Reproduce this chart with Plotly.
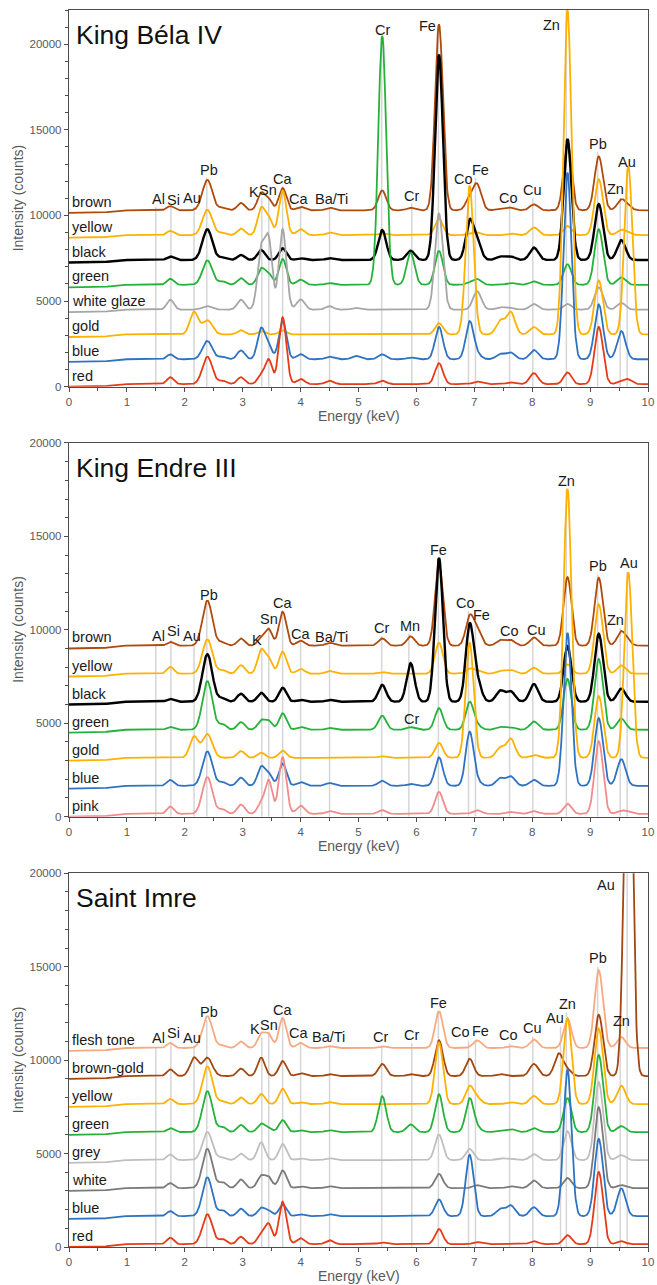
import numpy as np
import plotly.graph_objects as go

# ---------------- data ----------------
# characteristic line positions (keV) used to build each spectrum, and their widths (FWHM, keV)
LINE_NAMES = ["Si", "AuM", "PbM", "e265", "e297", "K", "Sn", "Ca", "CaKb", "Ti", "e495", "Cr", "CrKb/Mn",
              "Fe", "Co", "FeKb", "e745", "CoKb", "Cu", "AuLb", "Zn", "Pb", "ZnKb", "Au"]
LINE_E = [1.75, 2.16, 2.39, 2.65, 2.97, 3.32, 3.45, 3.69, 4.00, 4.50, 4.95, 5.41, 5.90,
          6.39, 6.92, 7.05, 7.45, 7.63, 8.03, 8.46, 8.61, 9.15, 9.54, 9.66]
LINE_FWHM = [0.14, 0.17, 0.20, 0.15, 0.15, 0.15, 0.14, 0.15, 0.16, 0.16, 0.16, 0.16, 0.16,
             0.16, 0.16, 0.17, 0.17, 0.17, 0.17, 0.17, 0.16, 0.17, 0.17, 0.16]
# weak continuum common to all spectra
BG_E = [0.0, 0.55, 0.9, 10.0]
BG_Y = [0, 0, 150, 150]

# ---- Panel 1 : King Béla IV ----
P1_NAMES = ["brown", "yellow", "black", "green", "white glaze", "gold", "blue", "red"]
P1_COLORS = ["#b04a0c", "#ffb100", "#000000", "#25b23a", "#a6a6a6", "#ffb100", "#2e72c2", "#e63b17"]
P1_OFFSETS = [10150, 8700, 7250, 5800, 4350, 2900, 1450, 0]
P1_HEIGHTS = [
    [250, 0, 1780, 150, 430, 1000, 600, 1300, 200, 150, 0, 1160, 150, 10870, 700, 1450, 100, 150, 350, 0, 3960, 3150, 600, 200],
    [250, 0, 1480, 150, 390, 1550, 950, 2600, 350, 150, 0, 100, 0, 970, 100, 150, 0, 100, 450, 0, 540, 3260, 300, 100],
    [200, 0, 1790, 150, 290, 580, 0, 680, 100, 100, 0, 1750, 540, 12000, 2200, 900, 200, 200, 720, 0, 7060, 3260, 1160, 0],
    [350, 0, 1420, 200, 390, 930, 600, 1510, 300, 100, 0, 14550, 1880, 1980, 100, 330, 0, 100, 200, 0, 1200, 3240, 430, 0],
    [580, 0, 200, 0, 580, 3500, 3900, 4700, 600, 200, 100, 0, 0, 5630, 0, 1070, 150, 100, 330, 0, 330, 1300, 390, 0],
    [0, 1300, 830, 0, 250, 200, 0, 250, 0, 0, 0, 0, 0, 660, 8690, 0, 810, 1300, 430, 0, 18970, 3150, 0, 9850],
    [290, 0, 1070, 150, 520, 1790, 700, 2270, 300, 150, 200, 290, 100, 1890, 2180, 250, 300, 390, 540, 0, 10910, 3200, 1650, 0],
    [400, 0, 1600, 200, 400, 500, 1400, 3900, 300, 200, 0, 200, 0, 1220, 0, 150, 0, 100, 640, 0, 680, 3340, 150, 250],
]
P1_LBL_TEXT = ["Al", "Si", "Au", "Pb", "K", "Sn", "Ca", "Ca", "Ba/Ti", "Cr", "Fe", "Zn", "Cr", "Co", "Fe",
               "Co", "Cu", "Pb", "Zn", "Au"]
P1_LBL_X = [1.55, 1.80, 2.13, 2.41, 3.19, 3.44, 3.69, 3.97, 4.53, 5.41, 6.19, 8.34, 5.92, 6.82, 7.11,
            7.59, 8.01, 9.13, 9.43, 9.64]
P1_LBL_Y = [10940, 10880, 11000, 12630, 11390, 11470, 12110, 10940, 10940, 20850, 21050, 21100, 11130,
            12110, 12630, 11000, 11470, 14150, 11520, 13130]
P1_LINE_X = [1.50, 1.76, 2.16, 2.38, 3.33, 3.45, 3.69, 4.00, 4.50, 5.40, 5.92, 6.38, 6.90, 7.02, 7.61,
             8.01, 8.59, 9.13, 9.52, 9.64]
P1_LINE_TOP = [10500, 10500, 10500, 12200, 11000, 11000, 11700, 10500, 10500, 20400, 10700, 21000, 11700,
               12200, 10600, 11000, 22000, 13700, 11000, 12700]

# ---- Panel 2 : King Endre III ----
P2_NAMES = ["brown", "yellow", "black", "green", "gold", "blue", "pink"]
P2_COLORS = ["#b04a0c", "#ffb100", "#000000", "#25b23a", "#ffb100", "#2e72c2", "#f28b8b"]
P2_OFFSETS = [9000, 7500, 6000, 4500, 3000, 1500, 0]
P2_HEIGHTS = [
    [200, 0, 2410, 200, 390, 400, 850, 1820, 270, 150, 0, 390, 500, 4380, 1500, 800, 300, 300, 440, 0, 3670, 3630, 750, 150],
    [360, 0, 1840, 200, 460, 1250, 750, 1180, 260, 150, 0, 100, 0, 1660, 250, 150, 150, 200, 320, 0, 500, 3710, 450, 0],
    [150, 0, 2540, 200, 430, 480, 0, 750, 100, 100, 0, 900, 2060, 7700, 4000, 1000, 590, 550, 950, 0, 2970, 3630, 700, 0],
    [150, 0, 2600, 300, 410, 500, 450, 880, 150, 100, 0, 750, 140, 1160, 1460, 200, 150, 150, 440, 0, 2720, 3790, 600, 0],
    [0, 1120, 1270, 0, 360, 270, 0, 390, 0, 0, 0, 80, 0, 800, 6170, 0, 540, 1020, 150, 0, 14400, 3300, 0, 9930],
    [310, 0, 1840, 200, 440, 1000, 600, 1190, 200, 150, 0, 270, 100, 1520, 2860, 200, 410, 500, 320, 0, 8190, 3620, 1430, 0],
    [390, 0, 1970, 250, 500, 550, 1750, 3040, 440, 150, 0, 200, 0, 1180, 0, 200, 0, 100, 150, 0, 540, 3890, 150, 100],
]
P2_LBL_TEXT = ["Al", "Si", "Au", "Pb", "K", "Sn", "Ca", "Ca", "Ba/Ti", "Cr", "Mn", "Fe", "Co", "Fe", "Co",
               "Cu", "Zn", "Pb", "Zn", "Au", "Cr"]
P2_LBL_X = [1.54, 1.80, 2.13, 2.42, 3.25, 3.45, 3.69, 4.00, 4.54, 5.40, 5.89, 6.38, 6.84, 7.13, 7.61,
            8.07, 8.59, 9.13, 9.44, 9.67, 5.92]
P2_LBL_Y = [9680, 9910, 9680, 11880, 9470, 10590, 11430, 9790, 9640, 10090, 10220, 14290, 11430, 10800,
            9950, 10000, 17950, 13390, 10540, 13570, 5220]
P2_LINE_X = [1.50, 1.76, 2.16, 2.38, 3.33, 3.45, 3.69, 4.00, 4.50, 5.40, 5.87, 6.38, 6.90, 7.02, 7.61,
             8.01, 8.59, 9.13, 9.52, 9.64]
P2_LINE_TOP = [9250, 9450, 9250, 11450, 9050, 10150, 11000, 9350, 9200, 9650, 9800, 13850, 11000, 10350,
               9500, 9550, 17500, 12950, 10100, 13100]

# ---- Panel 3 : Saint Imre ----
P3_NAMES = ["flesh tone", "brown-gold", "yellow", "green", "grey", "white", "blue", "red"]
P3_COLORS = ["#f7a981", "#a3460f", "#ffb100", "#25b23a", "#bfbfbf", "#7a7a7a", "#2e72c2", "#e63b17"]
P3_OFFSETS = [10500, 9000, 7500, 6000, 4500, 3000, 1500, 0]
P3_HEIGHTS = [
    [270, 0, 1700, 150, 350, 750, 700, 1610, 270, 100, 0, 100, 0, 1970, 0, 410, 0, 100, 460, 0, 1570, 4160, 590, 0],
    [350, 980, 980, 0, 400, 980, 0, 800, 150, 100, 0, 650, 100, 1910, 920, 0, 110, 0, 650, 1190, 300, 3280, 0, 23000],
    [270, 0, 2020, 150, 350, 540, 0, 820, 100, 100, 0, 0, 0, 3300, 920, 300, 0, 100, 430, 0, 4590, 4050, 980, 0],
    [210, 0, 2190, 270, 380, 440, 200, 640, 100, 100, 0, 1920, 410, 2020, 1780, 200, 100, 160, 210, 0, 1820, 4130, 320, 0],
    [300, 0, 1510, 150, 350, 950, 0, 860, 100, 100, 0, 0, 0, 1370, 600, 0, 100, 100, 320, 0, 1550, 4170, 270, 0],
    [270, 0, 2100, 320, 460, 650, 550, 950, 100, 100, 0, 0, 0, 760, 0, 160, 0, 100, 410, 0, 540, 4330, 160, 0],
    [270, 0, 2080, 320, 400, 440, 280, 620, 100, 100, 0, 0, 0, 890, 3280, 0, 380, 570, 480, 0, 7840, 4130, 1490, 0],
    [350, 0, 1600, 270, 400, 550, 1050, 2270, 320, 210, 0, 90, 0, 810, 0, 110, 0, 0, 160, 0, 480, 3870, 160, 0],
]
P3_LBL_TEXT = ["Al", "Si", "Au", "Pb", "K", "Sn", "Ca", "Ca", "Ba/Ti", "Cr", "Cr", "Fe", "Co", "Fe", "Co",
               "Cu", "Au", "Zn", "Pb", "Zn", "Au"]
P3_LBL_X = [1.54, 1.80, 2.13, 2.42, 3.22, 3.45, 3.69, 3.97, 4.49, 5.38, 5.91, 6.39, 6.76, 7.11, 7.59,
            8.01, 8.40, 8.61, 9.14, 9.54, 9.28]
P3_LBL_Y = [11160, 11430, 11160, 12590, 11650, 11880, 12680, 11430, 11250, 11250, 11340, 13070, 11490,
            11570, 11340, 11700, 12270, 13000, 15450, 12090, 19380]
P3_LINE_X = [1.50, 1.76, 2.16, 2.38, 3.33, 3.45, 3.69, 4.00, 4.50, 5.40, 5.92, 6.38, 6.90, 7.02, 7.61,
             8.01, 8.49, 8.59, 9.13, 9.52, 9.64]
P3_LINE_TOP = [10700, 11000, 10700, 12150, 11200, 11450, 12250, 11000, 10800, 10800, 10900, 12600, 11050,
               11100, 10900, 11250, 11800, 12550, 15000, 11650, 20000]

TITLES = ["King Béla IV", "King Endre III", "Saint Imre"]
Y_MAX = [22000, 20000, 20000]
X_TITLE = "Energy (keV)"
Y_TITLE = "Intensity (counts)"

# ---------------- build ----------------
E = np.round(np.arange(0, 10.0001, 0.01), 3)
SIG = np.array(LINE_FWHM) / 2.3548
BG = np.interp(E, BG_E, BG_Y)


def spectrum(heights, offset):
    y = offset + BG.copy()
    for e0, s, h in zip(LINE_E, SIG, heights):
        if h:
            y = y + h * np.exp(-0.5 * ((E - e0) / s) ** 2)
    return y


FONT = "Liberation Sans, Arial, sans-serif"
fig = go.Figure()

panels = [
    (P1_NAMES, P1_COLORS, P1_OFFSETS, P1_HEIGHTS, P1_LBL_TEXT, P1_LBL_X, P1_LBL_Y, P1_LINE_X, P1_LINE_TOP),
    (P2_NAMES, P2_COLORS, P2_OFFSETS, P2_HEIGHTS, P2_LBL_TEXT, P2_LBL_X, P2_LBL_Y, P2_LINE_X, P2_LINE_TOP),
    (P3_NAMES, P3_COLORS, P3_OFFSETS, P3_HEIGHTS, P3_LBL_TEXT, P3_LBL_X, P3_LBL_Y, P3_LINE_X, P3_LINE_TOP),
]
domains = [[0.6955, 1.0], [0.3479, 0.6500], [0.0, 0.3021]]

annotations = []
shapes = []
layout_axes = {}
for i, (names, colors, offs, heights, ltxt, lx, ly, vx, vtop) in enumerate(panels):
    sfx = "" if i == 0 else str(i + 1)
    xref, yref = "x" + sfx, "y" + sfx
    # element marker lines
    for x0, top in zip(vx, vtop):
        shapes.append(dict(type="line", xref=xref, yref=yref, x0=x0, x1=x0, y0=0, y1=top,
                           line=dict(color="#d6d6d6", width=1.5), layer="below"))
    # spectra
    for name, col, off, h in zip(names, colors, offs, heights):
        fig.add_trace(go.Scatter(x=E, y=spectrum(h, off), mode="lines", name=name,
                                 line=dict(color=col, width=2.4 if col == "#000000" else 1.8),
                                 xaxis=xref, yaxis=yref, showlegend=False, hoverinfo="skip"))
        annotations.append(dict(x=0.06, y=off, xref=xref, yref=yref, text=name, showarrow=False,
                                xanchor="left", yanchor="bottom", yshift=1, xshift=-2,
                                font=dict(family=FONT, size=14.5, color="#1a1a1a")))
    # element labels
    for t, x0, y0 in zip(ltxt, lx, ly):
        annotations.append(dict(x=x0, y=y0, xref=xref, yref=yref, text=t, showarrow=False,
                                xanchor="center", yanchor="middle",
                                font=dict(family=FONT, size=14.5, color="#1a1a1a")))
    # panel title
    annotations.append(dict(x=0.008, y=1 - 25 / 374, xref=xref + " domain", yref=yref + " domain",
                            text=TITLES[i], showarrow=False, xanchor="left", yanchor="middle",
                            font=dict(family=FONT, size=26.5, color="#111111")))
    # axis titles
    annotations.append(dict(x=0.5, y=0, xref=xref + " domain", yref=yref + " domain", text=X_TITLE,
                            showarrow=False, xanchor="center", yanchor="middle", yshift=-29,
                            font=dict(family=FONT, size=14, color="#595959")))
    annotations.append(dict(x=0, y=0.5, xref=xref + " domain", yref=yref + " domain", text=Y_TITLE,
                            showarrow=False, xanchor="center", yanchor="middle", xshift=-51, textangle=-90,
                            font=dict(family=FONT, size=14, color="#595959")))
    axis_common = dict(showgrid=False, zeroline=False, showline=True, linecolor="#4d4d4d", linewidth=1.2,
                       mirror=True, ticks="outside", ticklen=4, tickcolor="#4d4d4d", automargin=False,
                       tickfont=dict(family=FONT, size=11.5, color="#595959"))
    layout_axes["xaxis" + sfx] = dict(axis_common, domain=[0, 1], anchor=yref, range=[0, 10],
                                      tickmode="linear", tick0=0, dtick=1,
                                      minor=dict(dtick=0.5, ticks="outside", ticklen=3, tickcolor="#4d4d4d"))
    layout_axes["yaxis" + sfx] = dict(axis_common, domain=domains[i], anchor=xref, range=[0, Y_MAX[i]],
                                      tickmode="linear", tick0=0, dtick=5000, tickformat="d",
                                      minor=dict(dtick=1000, ticks="outside", ticklen=3, tickcolor="#4d4d4d"))

fig.update_layout(width=657, height=1285, margin=dict(l=69, r=9, t=10, b=38, autoexpand=False),
                  plot_bgcolor="white", paper_bgcolor="white", showlegend=False, hovermode=False,
                  annotations=annotations, shapes=shapes, **layout_axes)

# remove the page's default body margin so the 657x1285 figure fills the window exactly
fig.write_html("out.html", config={"displayModeBar": False, "staticPlot": True},
               post_script="document.body.style.margin='0px';"
                           "document.body.style.overflow='hidden';")
